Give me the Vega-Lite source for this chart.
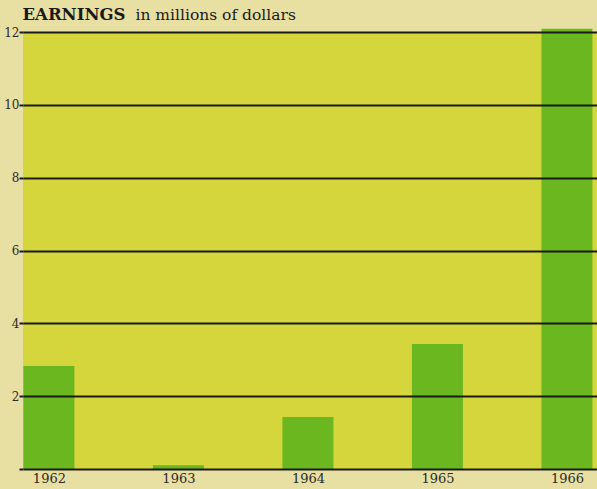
{
  "$schema": "https://vega.github.io/schema/vega-lite/v6.json",
  "width": 574,
  "height": 437,
  "autosize": {"type": "none"},
  "padding": {"left": 23, "top": 32, "right": 0, "bottom": 20},
  "background": "#e8e0a2",
  "config": {
    "view": {"fill": "#d5d63c", "stroke": null},
    "axis": {"labelFont": "DejaVu Serif", "labelColor": "#2a2a2a"}
  },
  "data": {
    "values": [
      {"year": 1962, "earnings": 2.83},
      {"year": 1963, "earnings": 0.1},
      {"year": 1964, "earnings": 1.43},
      {"year": 1965, "earnings": 3.43},
      {"year": 1966, "earnings": 12.09}
    ]
  },
  "mark": {"type": "bar", "size": 51, "color": "#6bb71f"},
  "encoding": {
    "x": {
      "field": "year",
      "type": "quantitative",
      "scale": {"domain": [1961.8, 1966.232], "nice": false, "zero": false, "padding": 0},
      "axis": {
        "values": [1962, 1963, 1964, 1965, 1966],
        "format": "d",
        "grid": false,
        "domain": false,
        "ticks": false,
        "labelFontSize": 13,
        "labelPadding": 3,
        "labelFlush": false,
        "title": "in millions of dollars",
        "titleAngle": 0,
        "titleAnchor": null,
        "titleAlign": "left",
        "titleBaseline": "alphabetic",
        "titleX": 112,
        "titleY": -450,
        "titleFont": "DejaVu Serif",
        "titleFontWeight": "normal",
        "titleFontSize": 15.5,
        "titleColor": "#1a1a1a"
      }
    },
    "y": {
      "field": "earnings",
      "type": "quantitative",
      "scale": {"domain": [0, 12], "nice": false},
      "axis": {
        "zindex": 1,
        "values": [0, 2, 4, 6, 8, 10, 12],
        "labelExpr": "datum.value == 0 ? '' : datum.label",
        "grid": true,
        "gridColor": "#1a1a1a",
        "gridWidth": 2,
        "gridOpacity": 1,
        "domain": false,
        "ticks": true,
        "tickColor": "#1a1a1a",
        "tickSize": 4,
        "tickWidth": 2,
        "labelPadding": 0,
        "labelFontSize": 12,
        "title": "EARNINGS",
        "titleAngle": 0,
        "titleAlign": "left",
        "titleBaseline": "alphabetic",
        "titleX": -1,
        "titleY": -13,
        "titleFont": "DejaVu Serif",
        "titleFontWeight": "bold",
        "titleFontSize": 16.5,
        "titleColor": "#1a1a1a"
      }
    }
  }
}
